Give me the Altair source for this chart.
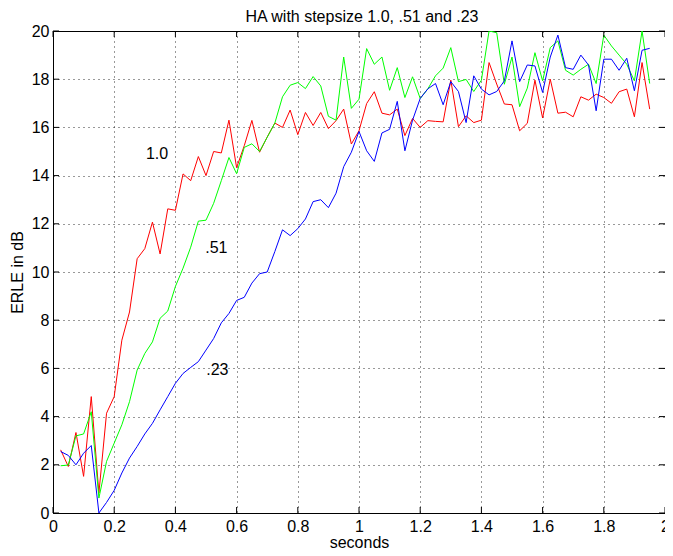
import altair as alt
import pandas as pd

seconds = [0.025, 0.05, 0.075, 0.1, 0.125, 0.15, 0.175, 0.2, 0.225, 0.25,
           0.275, 0.3, 0.325, 0.35, 0.375, 0.4, 0.425, 0.45, 0.475, 0.5,
           0.525, 0.55, 0.575, 0.6, 0.625, 0.65, 0.675, 0.7, 0.725, 0.75,
           0.775, 0.8, 0.825, 0.85, 0.875, 0.9, 0.925, 0.95, 0.975, 1.0,
           1.025, 1.05, 1.075, 1.1, 1.125, 1.15, 1.175, 1.2, 1.225, 1.25,
           1.275, 1.3, 1.325, 1.35, 1.375, 1.4, 1.425, 1.45, 1.475, 1.5,
           1.525, 1.55, 1.575, 1.6, 1.625, 1.65, 1.675, 1.7, 1.725, 1.75,
           1.775, 1.8, 1.825, 1.85, 1.875, 1.9, 1.925, 1.95]

erle_step_10 = [2.62, 1.93, 3.34, 1.52, 4.83, 0.83, 4.14, 4.83, 7.17, 8.34,
                10.55, 10.97, 12.07, 10.75, 12.62, 12.56, 14.07, 13.79, 14.79, 14.0,
                15.0, 14.94, 16.3, 14.33, 15.24, 16.29, 14.97, 15.6, 16.18, 16.0,
                16.72, 15.7, 16.62, 16.08, 16.62, 15.95, 16.28, 16.76, 15.31, 15.86,
                16.99, 17.48, 16.59, 16.52, 16.76, 15.66, 16.37, 16.0, 16.28, 16.25,
                16.23, 17.96, 16.03, 16.48, 16.2, 16.3, 18.69, 17.8, 16.97, 16.94,
                15.86, 16.17, 17.96, 16.39, 18.0, 16.59, 16.63, 16.44, 17.27, 17.13,
                17.38, 17.24, 17.0, 17.48, 17.59, 16.44, 18.69, 16.76]

erle_step_51 = [1.96, 1.99, 3.2, 3.28, 4.2, 0.62, 2.14, 2.9, 3.66, 4.62,
                5.93, 6.62, 7.1, 8.08, 8.38, 9.4, 10.16, 11.03, 12.11, 12.15,
                12.85, 13.79, 14.75, 14.08, 15.17, 15.32, 15.0, 15.59, 16.18, 17.27,
                17.75, 17.86, 17.61, 18.11, 17.72, 16.46, 16.3, 18.92, 16.79, 17.17,
                19.27, 18.62, 18.92, 17.54, 18.48, 17.24, 18.1, 17.2, 17.6, 18.14,
                18.46, 19.31, 17.9, 17.99, 17.49, 17.96, 20.0, 19.93, 17.79, 18.92,
                16.86, 17.63, 19.1, 17.93, 19.31, 19.59, 18.37, 18.17, 18.41, 18.62,
                17.82, 19.83, 19.38, 19.0, 18.62, 17.93, 20.0, 17.82]

erle_step_23 = [2.55, 2.39, 2.0, 2.48, 2.8, 0.0, 0.44, 0.94, 1.66, 2.28,
                2.76, 3.28, 3.72, 4.28, 4.83, 5.38, 5.79, 6.04, 6.28, 6.76,
                7.24, 7.89, 8.28, 8.82, 8.95, 9.54, 9.93, 10.0, 10.85, 11.75,
                11.51, 11.8, 12.2, 12.92, 13.0, 12.67, 13.27, 14.37, 14.97, 15.83,
                15.03, 14.59, 15.77, 15.92, 17.08, 15.03, 16.3, 17.2, 17.6, 17.82,
                16.94, 17.9, 17.49, 16.2, 18.14, 17.59, 17.35, 17.49, 17.93, 19.59,
                17.9, 18.59, 18.55, 17.45, 18.92, 19.83, 18.48, 18.41, 19.0, 18.59,
                16.69, 18.83, 18.83, 18.37, 18.87, 17.52, 19.2, 19.28]

x_ticks = [0, 0.2, 0.4, 0.6, 0.8, 1.0, 1.2, 1.4, 1.6, 1.8, 2.0]
y_ticks = [0, 2, 4, 6, 8, 10, 12, 14, 16, 18, 20]

label_text = ["1.0", ".51", ".23"]
label_t = [0.34, 0.534, 0.537]
label_v = [14.9, 10.98, 5.93]

chart_title = ["HA with stepsize 1.0, .51 and .23"]

W, H = 612, 482
FONT = "Liberation Sans"
TICK = 6

xs = alt.Scale(domain=[0, 2], nice=False, zero=False)
ys = alt.Scale(domain=[0, 20], nice=False, zero=False)

x_axis = alt.Axis(values=x_ticks, format="~g", title="seconds", grid=True,
                  ticks=False, labelPadding=5, titlePadding=0,
                  labelFlush=False, labelOverlap=False)
y_axis = alt.Axis(values=y_ticks, format="~g", title="ERLE in dB", grid=True,
                  ticks=False, labelPadding=4, titlePadding=6,
                  labelOverlap=False)


def series_line(vals, color):
    df = pd.DataFrame({"t": seconds, "v": vals})
    return alt.Chart(df).mark_line(color=color, strokeWidth=1, clip=True).encode(
        x=alt.X("t:Q", scale=xs, axis=x_axis),
        y=alt.Y("v:Q", scale=ys, axis=y_axis),
    )


xt_df = pd.DataFrame({"xt": x_ticks})
yt_df = pd.DataFrame({"yt": y_ticks})

bottom_ticks = alt.Chart(xt_df).mark_rule(color="black", strokeWidth=1).encode(
    x=alt.X("xt:Q", scale=xs, axis=x_axis), y=alt.value(H), y2=alt.value(H - TICK))
top_ticks = alt.Chart(xt_df).mark_rule(color="black", strokeWidth=1).encode(
    x=alt.X("xt:Q", scale=xs, axis=x_axis), y=alt.value(0), y2=alt.value(TICK))
left_ticks = alt.Chart(yt_df).mark_rule(color="black", strokeWidth=1).encode(
    y=alt.Y("yt:Q", scale=ys, axis=y_axis), x=alt.value(0), x2=alt.value(TICK))
right_ticks = alt.Chart(yt_df).mark_rule(color="black", strokeWidth=1).encode(
    y=alt.Y("yt:Q", scale=ys, axis=y_axis), x=alt.value(W), x2=alt.value(W - TICK))

lab_df = pd.DataFrame({"lt": label_t, "lv": label_v, "txt": label_text})
labels = alt.Chart(lab_df).mark_text(font=FONT, fontSize=16, color="black",
                                     align="center", baseline="middle").encode(
    x=alt.X("lt:Q", scale=xs, axis=x_axis),
    y=alt.Y("lv:Q", scale=ys, axis=y_axis),
    text="txt:N",
)

title_df = pd.DataFrame({"title": chart_title})
title_mark = alt.Chart(title_df).mark_text(
    font=FONT, fontSize=16, color="black", align="center", baseline="alphabetic"
).encode(x=alt.value(W / 2 + 3), y=alt.value(-9), text="title:N")

chart = alt.layer(
    series_line(erle_step_10, "#ff0000"),
    series_line(erle_step_51, "#00ff00"),
    series_line(erle_step_23, "#0000ff"),
    bottom_ticks, top_ticks, left_ticks, right_ticks,
    labels, title_mark,
).properties(
    width=W,
    height=H,
    autosize=alt.AutoSizeParams(type="none"),
    padding={"left": 45, "top": 23, "right": 0, "bottom": 35},
    background="white",
).configure_view(
    stroke="black", strokeWidth=1
).configure_axis(
    domainColor="black", domainWidth=1,
    gridColor="black", gridDash=[1, 4], gridOpacity=0.8, gridWidth=1,
    labelFont=FONT, labelFontSize=16, labelColor="black",
    titleFont=FONT, titleFontSize=16, titleFontWeight="normal", titleColor="black",
)

chart.save("out.html", embed_options={"renderer": "svg", "actions": False})
